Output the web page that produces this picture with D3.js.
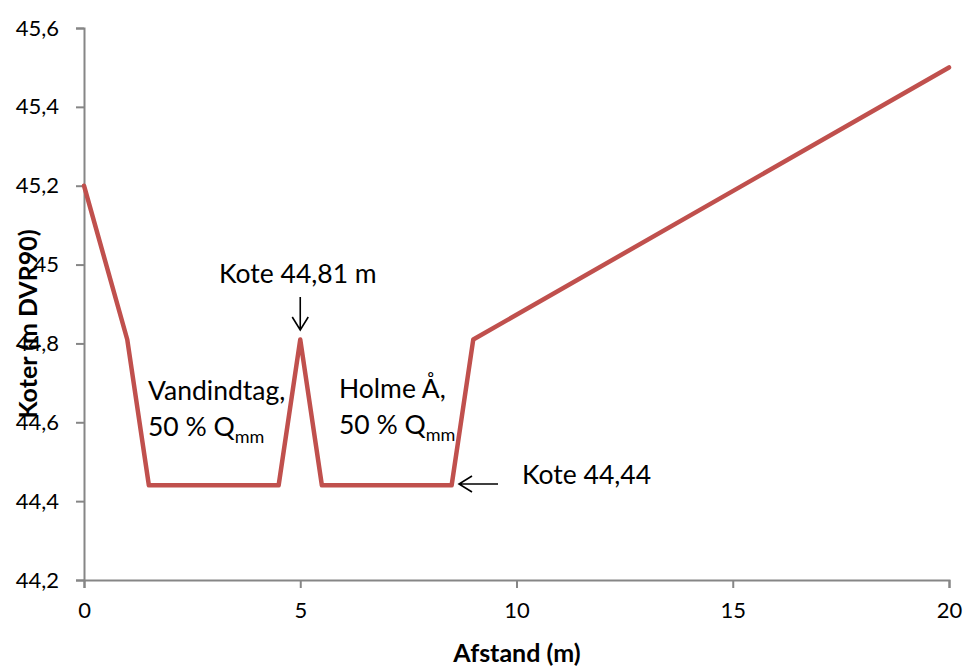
<!DOCTYPE html>
<html><head><meta charset="utf-8">
<script src="https://cdn.jsdelivr.net/npm/d3@7"></script>
<style>body{margin:0;background:#fff}svg{display:block}text{font-family:Lato,"Open Sans",sans-serif}</style>
</head><body><svg id="c" width="964" height="666"></svg>
<script>
const distance = [0, 1, 1.5, 4.5, 5, 5.5, 8.5, 9, 20];
const elevation = [45.2, 44.81, 44.44, 44.44, 44.81, 44.44, 44.44, 44.81, 45.5];
const xTicks = [0, 5, 10, 15, 20];
const yTicks = [44.2, 44.4, 44.6, 44.8, 45.0, 45.2, 45.4, 45.6];
const xTitle = "Afstand (m)";
const yTitle = "Koter (m DVR90)";

const svg = d3.select("#c");
const x = d3.scaleLinear().domain([0, 20]).range([84, 949]);
const y = d3.scaleLinear().domain([44.2, 45.6]).range([580, 28]);
const fmt = d => String(+d.toFixed(1)).replace(".", ",");
const axisColor = "#868686";

const gx = svg.append("g").attr("transform", `translate(0,${y(44.2)})`)
  .call(d3.axisBottom(x).tickValues(xTicks).tickFormat(fmt).tickSize(8).tickPadding(14));
const gy = svg.append("g").attr("transform", `translate(${x(0)},0)`)
  .call(d3.axisLeft(y).tickValues(yTicks).tickFormat(fmt).tickSize(8).tickPadding(17));
[gx, gy].forEach(g => {
  g.select(".domain").attr("stroke", axisColor).attr("stroke-width", 2);
  g.selectAll(".tick line").attr("stroke", axisColor).attr("stroke-width", 2);
  g.selectAll(".tick text").attr("fill", "#000").style("font-size", "22px").style("font-family", "Lato");
});
gx.selectAll(".tick text").attr("dy", "0.71em");

svg.append("text").attr("x", 517).attr("y", 662).attr("text-anchor", "middle")
  .style("font-size", "25px").style("font-weight", "bold").text(xTitle);
svg.append("text").attr("transform", "translate(37,324) rotate(-90)").attr("text-anchor", "middle")
  .style("font-size", "25px").style("font-weight", "bold").text(yTitle);

const pts = distance.map((d, i) => [d, elevation[i]]);
svg.append("path").datum(pts)
  .attr("d", d3.line().x(d => x(d[0])).y(d => y(d[1])))
  .attr("fill", "none").attr("stroke", "#C0504D").attr("stroke-width", 4.5)
  .attr("stroke-linejoin", "round").attr("stroke-linecap", "round");

// annotations
const fs = "26.5px";
svg.append("text").attr("x", 219).attr("y", 283).style("font-size", fs).text("Kote 44,81 m");
svg.append("text").attr("x", 522).attr("y", 484).style("font-size", fs).text("Kote 44,44");
function label(x0, y0, l1) {
  svg.append("text").attr("x", x0).attr("y", y0).style("font-size", fs).text(l1);
  const t = svg.append("text").attr("x", x0).attr("y", y0 + 36).style("font-size", fs);
  t.append("tspan").text("50 % Q");
  t.append("tspan").attr("dy", 7).style("font-size", "18px").text("mm");
}
label(148, 400, "Vandindtag,");
label(339, 398, "Holme Å,");

// arrows
const ar = svg.append("g").attr("stroke", "#000").attr("stroke-width", 1.6).attr("fill", "none");
const ax1 = x(5);
ar.append("path").attr("d", `M${ax1},297 L${ax1},330 M${ax1-8},317 L${ax1},330 L${ax1+8},317`);
ar.append("path").attr("d", `M498,484 L459,484 M472,476 L459,484 L472,492`);
</script></body></html>
